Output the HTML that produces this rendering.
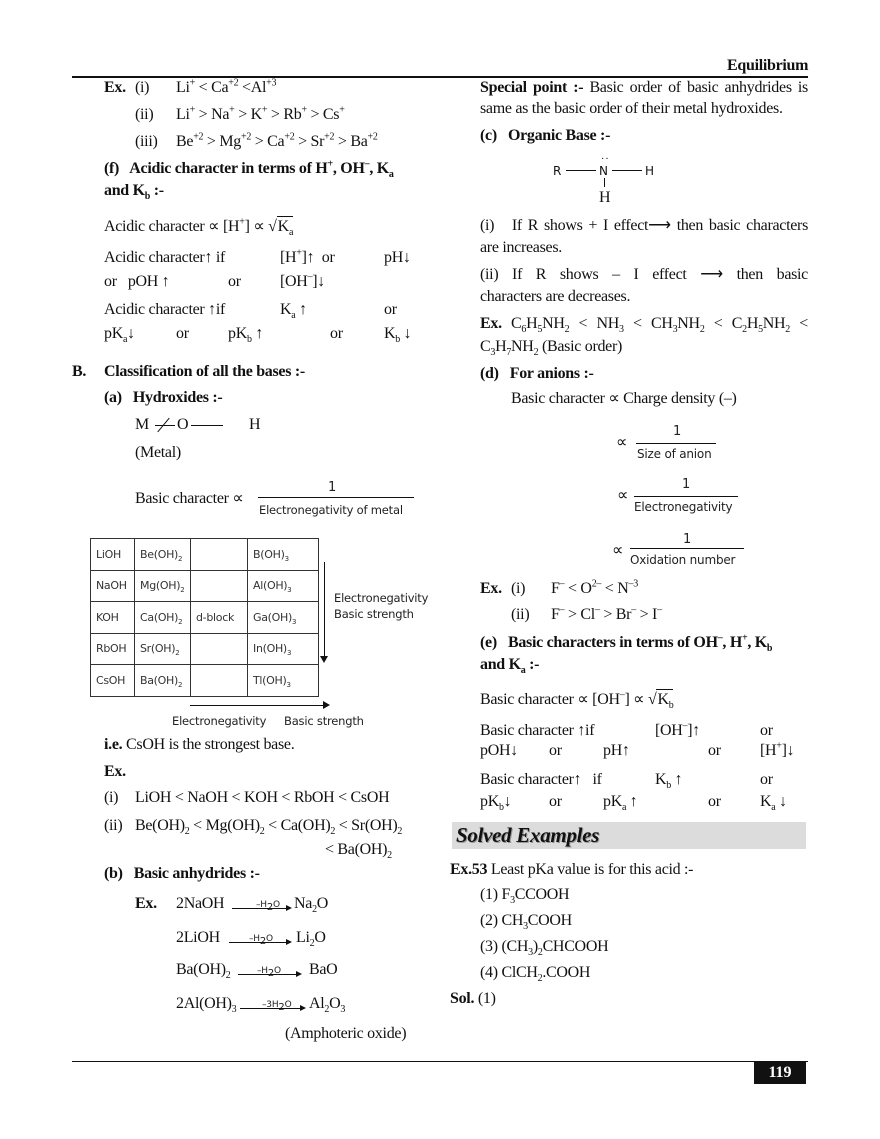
<!DOCTYPE html>
<html><head><meta charset="utf-8"><style>
body{margin:0;background:#fff}
#p{position:relative;width:880px;height:1139px;overflow:hidden;background:#fff;color:#111;font-family:"Liberation Serif",serif;font-size:16px}
.t{position:absolute;white-space:nowrap;line-height:20px;letter-spacing:-0.3px}
.b{font-weight:bold}
.s{font-family:"DejaVu Sans","Liberation Sans",sans-serif;font-size:11.5px;letter-spacing:-0.2px;color:#222}
sub,sup{font-size:10px;line-height:0}
.j{position:absolute;line-height:20px;text-align:justify;text-align-last:justify;white-space:nowrap;letter-spacing:-0.3px}
.hl{position:absolute;background:#111}
.tb{position:absolute;border-collapse:collapse;left:90px;top:538px}
.tb td{border:1.5px solid #333;height:30.5px;padding:0 0 0 5px;font-family:"DejaVu Sans",sans-serif;font-size:11px;color:#333;letter-spacing:-0.3px}
.tb sub{font-size:7px}
.sq{display:inline-block;border-top:1px solid #111;padding-left:1px}
.ah{position:absolute;width:0;height:0;border-top:3px solid transparent;border-bottom:3px solid transparent;border-left:6px solid #111}
</style></head><body><div id="p">

<div class="t b" style="left:727px;top:56px;font-size:16px">Equilibrium</div>
<div class="hl" style="left:72px;top:76px;width:736px;height:2px"></div>

<!-- LEFT -->
<div class="t" style="left:104px;top:78px"><b>Ex.</b></div>
<div class="t" style="left:135px;top:78px">(i)</div>
<div class="t" style="left:176px;top:78px">Li<sup>+</sup> &lt; Ca<sup>+2</sup> &lt;Al<sup>+3</sup></div>
<div class="t" style="left:135px;top:105px">(ii)</div>
<div class="t" style="left:176px;top:105px">Li<sup>+</sup> &gt; Na<sup>+</sup> &gt; K<sup>+</sup> &gt; Rb<sup>+</sup> &gt; Cs<sup>+</sup></div>
<div class="t" style="left:135px;top:132px">(iii)</div>
<div class="t" style="left:176px;top:132px">Be<sup>+2</sup> &gt; Mg<sup>+2</sup> &gt; Ca<sup>+2</sup> &gt; Sr<sup>+2</sup> &gt; Ba<sup>+2</sup></div>
<div class="t b" style="left:104px;top:159px">(f)&nbsp;&nbsp; Acidic character in terms of H<sup>+</sup>, OH<sup>–</sup>, K<sub>a</sub></div>
<div class="t b" style="left:104px;top:181px">and K<sub>b</sub> :-</div>

<div class="t" style="left:104px;top:216px">Acidic character ∝ [H<sup>+</sup>] ∝ √<span class="sq">K<sub>a</sub></span></div>
<div class="t" style="left:104px;top:248px">Acidic character↑ if</div>
<div class="t" style="left:280px;top:248px">[H<sup>+</sup>]↑&nbsp; or</div>
<div class="t" style="left:384px;top:248px">pH↓</div>
<div class="t" style="left:104px;top:272px">or&nbsp;&nbsp; pOH ↑</div>
<div class="t" style="left:228px;top:272px">or</div>
<div class="t" style="left:280px;top:272px">[OH<sup>–</sup>]↓</div>
<div class="t" style="left:104px;top:300px">Acidic character ↑if</div>
<div class="t" style="left:280px;top:300px">K<sub>a</sub> ↑</div>
<div class="t" style="left:384px;top:300px">or</div>
<div class="t" style="left:104px;top:324px">pK<sub>a</sub>↓</div>
<div class="t" style="left:176px;top:324px">or</div>
<div class="t" style="left:228px;top:324px">pK<sub>b</sub> ↑</div>
<div class="t" style="left:330px;top:324px">or</div>
<div class="t" style="left:384px;top:324px">K<sub>b</sub> ↓</div>

<div class="t b" style="left:72px;top:362px">B.</div>
<div class="t b" style="left:104px;top:362px">Classification of all the bases :-</div>
<div class="t b" style="left:104px;top:388px">(a)&nbsp;&nbsp; Hydroxides :-</div>
<div class="t" style="left:135px;top:415px">M</div>
<div class="hl" style="left:155px;top:425px;width:20px;height:1px"></div>
<div class="hl" style="left:163px;top:416px;width:1px;height:18px;transform:rotate(40deg)"></div>
<div class="t" style="left:177px;top:415px">O</div>
<div class="hl" style="left:191px;top:425px;width:32px;height:1px"></div>
<div class="t" style="left:249px;top:415px">H</div>
<div class="t" style="left:135px;top:443px">(Metal)</div>
<div class="t" style="left:135px;top:489px">Basic character ∝</div>
<div class="t s" style="left:328px;top:478px;font-size:13px">1</div>
<div class="hl" style="left:258px;top:497px;width:156px;height:1px"></div>
<div class="t s" style="left:259px;top:500px">Electronegativity of metal</div>

<table class="tb">
<tr><td style="width:38px">LiOH</td><td style="width:50px">Be(OH)<sub>2</sub></td><td style="width:51px"></td><td style="width:65px">B(OH)<sub>3</sub></td></tr>
<tr><td>NaOH</td><td>Mg(OH)<sub>2</sub></td><td></td><td>Al(OH)<sub>3</sub></td></tr>
<tr><td>KOH</td><td>Ca(OH)<sub>2</sub></td><td>d-block</td><td>Ga(OH)<sub>3</sub></td></tr>
<tr><td>RbOH</td><td>Sr(OH)<sub>2</sub></td><td></td><td>In(OH)<sub>3</sub></td></tr>
<tr><td>CsOH</td><td>Ba(OH)<sub>2</sub></td><td></td><td>Tl(OH)<sub>3</sub></td></tr>
</table>
<div class="hl" style="left:324px;top:562px;width:1px;height:96px"></div>
<div style="position:absolute;left:320px;top:656px;border-left:4px solid transparent;border-right:4px solid transparent;border-top:7px solid #111"></div>
<div class="t s" style="left:334px;top:588px">Electronegativity</div>
<div class="t s" style="left:334px;top:604px">Basic strength</div>
<div class="hl" style="left:190px;top:705px;width:134px;height:1px"></div>
<div style="position:absolute;left:323px;top:701px;border-top:4px solid transparent;border-bottom:4px solid transparent;border-left:7px solid #111"></div>
<div class="t s" style="left:172px;top:711px">Electronegativity</div>
<div class="t s" style="left:284px;top:711px">Basic strength</div>

<div class="t" style="left:104px;top:735px"><b>i.e.</b> CsOH is the strongest base.</div>
<div class="t b" style="left:104px;top:762px">Ex.</div>
<div class="t" style="left:104px;top:788px">(i)</div>
<div class="t" style="left:135px;top:788px">LiOH &lt; NaOH &lt; KOH &lt; RbOH &lt; CsOH</div>
<div class="t" style="left:104px;top:816px">(ii)</div>
<div class="t" style="left:135px;top:816px">Be(OH)<sub>2</sub> &lt; Mg(OH)<sub>2</sub> &lt; Ca(OH)<sub>2</sub> &lt; Sr(OH)<sub>2</sub></div>
<div class="t" style="left:325px;top:840px">&lt; Ba(OH)<sub>2</sub></div>
<div class="t b" style="left:104px;top:864px">(b)&nbsp;&nbsp; Basic anhydrides :-</div>

<div class="t b" style="left:135px;top:894px">Ex.</div>
<div class="t" style="left:176px;top:894px">2NaOH</div>
<div class="t s" style="left:256px;top:895px;font-size:9px">–H<sub>2</sub>O</div>
<div class="hl" style="left:232px;top:908px;width:56px;height:1px"></div><div class="ah" style="left:286px;top:905px"></div>
<div class="t" style="left:294px;top:894px">Na<sub>2</sub>O</div>

<div class="t" style="left:176px;top:928px">2LiOH</div>
<div class="t s" style="left:249px;top:929px;font-size:9px">–H<sub>2</sub>O</div>
<div class="hl" style="left:229px;top:942px;width:59px;height:1px"></div><div class="ah" style="left:286px;top:939px"></div>
<div class="t" style="left:296px;top:928px">Li<sub>2</sub>O</div>

<div class="t" style="left:176px;top:960px">Ba(OH)<sub>2</sub></div>
<div class="t s" style="left:257px;top:961px;font-size:9px">–H<sub>2</sub>O</div>
<div class="hl" style="left:238px;top:974px;width:60px;height:1px"></div><div class="ah" style="left:296px;top:971px"></div>
<div class="t" style="left:309px;top:960px">BaO</div>

<div class="t" style="left:176px;top:994px">2Al(OH)<sub>3</sub></div>
<div class="t s" style="left:262px;top:995px;font-size:9px">–3H<sub>2</sub>O</div>
<div class="hl" style="left:240px;top:1008px;width:62px;height:1px"></div><div class="ah" style="left:300px;top:1005px"></div>
<div class="t" style="left:309px;top:994px">Al<sub>2</sub>O<sub>3</sub></div>
<div class="t" style="left:285px;top:1024px">(Amphoteric oxide)</div>

<!-- RIGHT -->
<div class="j" style="left:480px;top:78px;width:328px"><b>Special point :-</b> Basic order of basic anhydrides is</div>
<div class="t" style="left:480px;top:99px">same as the basic order of their metal hydroxides.</div>
<div class="t b" style="left:480px;top:126px">(c)&nbsp;&nbsp; Organic Base :-</div>
<div class="t" style="left:553px;top:161px;font-family:'DejaVu Sans',sans-serif;font-size:12px">R</div>
<div class="hl" style="left:566px;top:170px;width:30px;height:1px"></div>
<div class="t" style="left:599px;top:161px;font-family:'DejaVu Sans',sans-serif;font-size:12px">N</div>
<div class="t" style="left:601px;top:150px;font-size:10px;letter-spacing:1px">··</div>
<div class="hl" style="left:612px;top:170px;width:30px;height:1px"></div>
<div class="t" style="left:645px;top:161px;font-family:'DejaVu Sans',sans-serif;font-size:12px">H</div>
<div class="hl" style="left:604px;top:178px;width:1px;height:9px"></div>
<div class="t" style="left:599px;top:188px">H</div>

<div class="j" style="left:480px;top:216px;width:328px">(i)&nbsp;&nbsp; If R shows + I effect⟶ then basic characters</div>
<div class="t" style="left:480px;top:238px">are increases.</div>
<div class="j" style="left:480px;top:265px;width:328px">(ii) If R shows – I effect ⟶ then basic</div>
<div class="t" style="left:480px;top:287px">characters are decreases.</div>
<div class="j" style="left:480px;top:314px;width:328px"><b>Ex.</b> C<sub>6</sub>H<sub>5</sub>NH<sub>2</sub> &lt; NH<sub>3</sub> &lt; CH<sub>3</sub>NH<sub>2</sub> &lt; C<sub>2</sub>H<sub>5</sub>NH<sub>2</sub> &lt;</div>
<div class="t" style="left:480px;top:337px">C<sub>3</sub>H<sub>7</sub>NH<sub>2</sub> (Basic order)</div>
<div class="t b" style="left:480px;top:364px">(d)&nbsp;&nbsp; For anions :-</div>
<div class="t" style="left:511px;top:389px">Basic character ∝ Charge density (–)</div>

<div class="t" style="left:616px;top:433px">∝</div>
<div class="t s" style="left:673px;top:422px;font-size:13px">1</div>
<div class="hl" style="left:636px;top:443px;width:80px;height:1px"></div>
<div class="t s" style="left:637px;top:444px;font-size:12px">Size of anion</div>

<div class="t" style="left:617px;top:486px">∝</div>
<div class="t s" style="left:682px;top:475px;font-size:13px">1</div>
<div class="hl" style="left:634px;top:496px;width:104px;height:1px"></div>
<div class="t s" style="left:634px;top:497px;font-size:12px">Electronegativity</div>

<div class="t" style="left:612px;top:541px">∝</div>
<div class="t s" style="left:683px;top:530px;font-size:13px">1</div>
<div class="hl" style="left:630px;top:548px;width:114px;height:1px"></div>
<div class="t s" style="left:630px;top:550px;font-size:12px">Oxidation number</div>

<div class="t b" style="left:480px;top:579px">Ex.</div>
<div class="t" style="left:511px;top:579px">(i)</div>
<div class="t" style="left:551px;top:579px">F<sup>–</sup> &lt; O<sup>2–</sup> &lt; N<sup>–3</sup></div>
<div class="t" style="left:511px;top:605px">(ii)</div>
<div class="t" style="left:551px;top:605px">F<sup>–</sup> &gt; Cl<sup>–</sup> &gt; Br<sup>–</sup> &gt; I<sup>–</sup></div>
<div class="t b" style="left:480px;top:633px">(e)&nbsp;&nbsp; Basic characters in terms of OH<sup>–</sup>, H<sup>+</sup>, K<sub>b</sub></div>
<div class="t b" style="left:480px;top:655px">and K<sub>a</sub> :-</div>
<div class="t" style="left:480px;top:689px">Basic character ∝ [OH<sup>–</sup>] ∝ √<span class="sq">K<sub>b</sub></span></div>

<div class="t" style="left:480px;top:721px">Basic character ↑if</div>
<div class="t" style="left:655px;top:721px">[OH<sup>–</sup>]↑</div>
<div class="t" style="left:760px;top:721px">or</div>
<div class="t" style="left:480px;top:741px">pOH↓</div>
<div class="t" style="left:549px;top:741px">or</div>
<div class="t" style="left:603px;top:741px">pH↑</div>
<div class="t" style="left:708px;top:741px">or</div>
<div class="t" style="left:760px;top:741px">[H<sup>+</sup>]↓</div>
<div class="t" style="left:480px;top:770px">Basic character↑&nbsp;&nbsp; if</div>
<div class="t" style="left:655px;top:770px">K<sub>b</sub> ↑</div>
<div class="t" style="left:760px;top:770px">or</div>
<div class="t" style="left:480px;top:792px">pK<sub>b</sub>↓</div>
<div class="t" style="left:549px;top:792px">or</div>
<div class="t" style="left:603px;top:792px">pK<sub>a</sub> ↑</div>
<div class="t" style="left:708px;top:792px">or</div>
<div class="t" style="left:760px;top:792px">K<sub>a</sub> ↓</div>

<div style="position:absolute;left:452px;top:822px;width:354px;height:27px;background:#dcdcdc"></div>
<div class="t" style="left:456px;top:822px;font-size:21px;line-height:27px;font-weight:bold;font-style:italic;text-shadow:1px 1px 0 #999">Solved Examples</div>

<div class="t" style="left:450px;top:860px"><b>Ex.53</b> Least pKa value is for this acid :-</div>
<div class="t" style="left:480px;top:885px">(1) F<sub>3</sub>CCOOH</div>
<div class="t" style="left:480px;top:911px">(2) CH<sub>3</sub>COOH</div>
<div class="t" style="left:480px;top:937px">(3) (CH<sub>3</sub>)<sub>2</sub>CHCOOH</div>
<div class="t" style="left:480px;top:963px">(4) ClCH<sub>2</sub>.COOH</div>
<div class="t" style="left:450px;top:989px"><b>Sol.</b> (1)</div>

<div class="hl" style="left:72px;top:1061px;width:736px;height:1px"></div>
<div style="position:absolute;left:754px;top:1062px;width:52px;height:22px;background:#111;color:#fff;font-weight:bold;font-size:16px;line-height:22px;text-align:center">119</div>
</div></body></html>
